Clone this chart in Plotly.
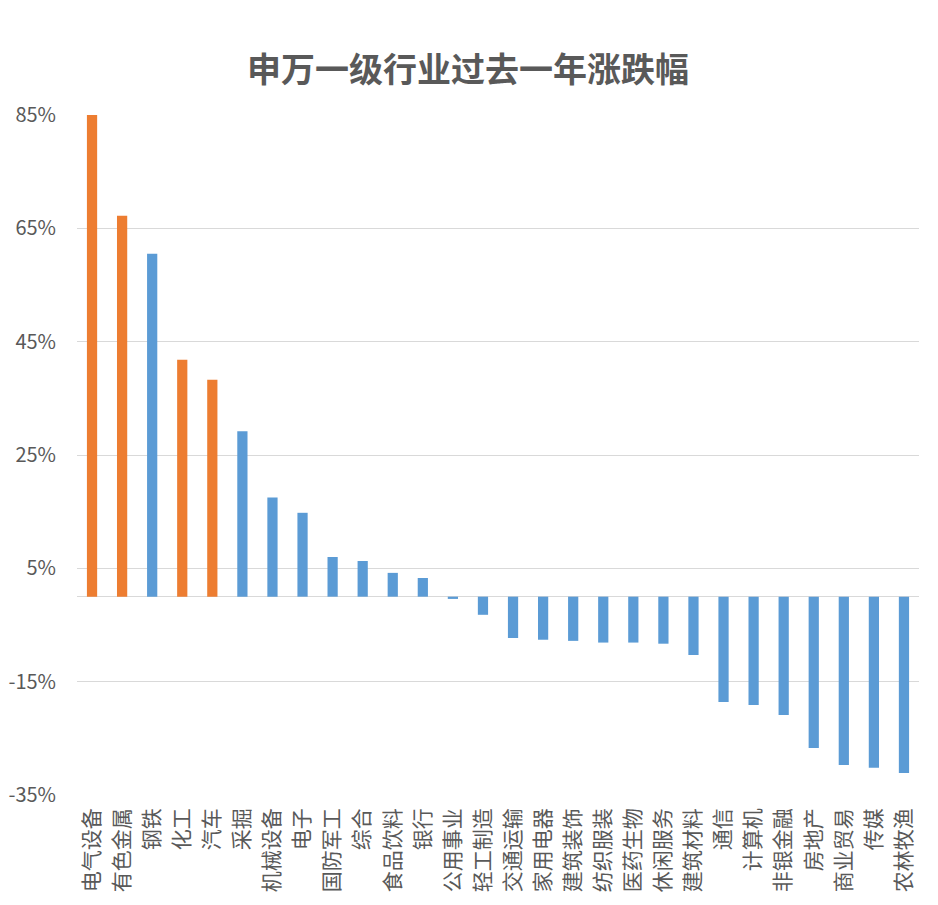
import plotly.graph_objects as go

categories = ["电气设备", "有色金属", "钢铁", "化工", "汽车", "采掘", "机械设备", "电子", "国防军工", "综合",
              "食品饮料", "银行", "公用事业", "轻工制造", "交通运输", "家用电器", "建筑装饰", "纺织服装",
              "医药生物", "休闲服务", "建筑材料", "通信", "计算机", "非银金融", "房地产", "商业贸易", "传媒", "农林牧渔"]
values = [85.0, 67.2, 60.5, 41.8, 38.3, 29.2, 17.5, 14.8, 7.0, 6.3,
          4.2, 3.3, -0.4, -3.2, -7.3, -7.6, -7.8, -8.1,
          -8.1, -8.3, -10.3, -18.6, -19.1, -20.9, -26.7, -29.7, -30.2, -31.1]
highlight = ["电气设备", "有色金属", "化工", "汽车"]
y_ticks = [-35, -15, 5, 25, 45, 65, 85]

ORANGE = "#ED7D31"
BLUE = "#5B9BD5"
colors = [ORANGE if c in highlight else BLUE for c in categories]

fig = go.Figure(go.Bar(x=categories, y=values, marker=dict(color=colors, line=dict(width=0)), width=0.34))

# page body adds an 8px offset; margins compensate for it
fig.update_layout(
    width=938, height=905,
    paper_bgcolor="white", plot_bgcolor="white",
    margin=dict(l=69, r=27, t=107, b=118, autoexpand=False),
    title=dict(text="申万一级行业过去一年涨跌幅", x=(468 - 8) / 938, xanchor="center", y=1 - 62 / 905, yanchor="middle",
               font=dict(family="Noto Sans CJK SC", size=34, color="#595959", weight="bold")),
    showlegend=False,
    font=dict(family="Noto Sans CJK SC", color="#595959"),
)
fig.update_yaxes(range=[-35, 85], tickvals=y_ticks, ticktext=[f"{v}%" for v in y_ticks],
                 showgrid=True, gridcolor="#D9D9D9", gridwidth=1,
                 zeroline=True, zerolinecolor="#D9D9D9", zerolinewidth=1,
                 showline=False, ticks="", ticklabelstandoff=20, automargin=False,
                 tickfont=dict(family="Noto Sans CJK SC", size=20, color="#595959"))
fig.update_xaxes(tickangle=-90, showline=False, ticks="", showgrid=False,
                 ticklabelstandoff=8, automargin=False,
                 tickfont=dict(family="Noto Sans CJK SC", size=21, color="#595959"))

fig.write_html("out.html")
